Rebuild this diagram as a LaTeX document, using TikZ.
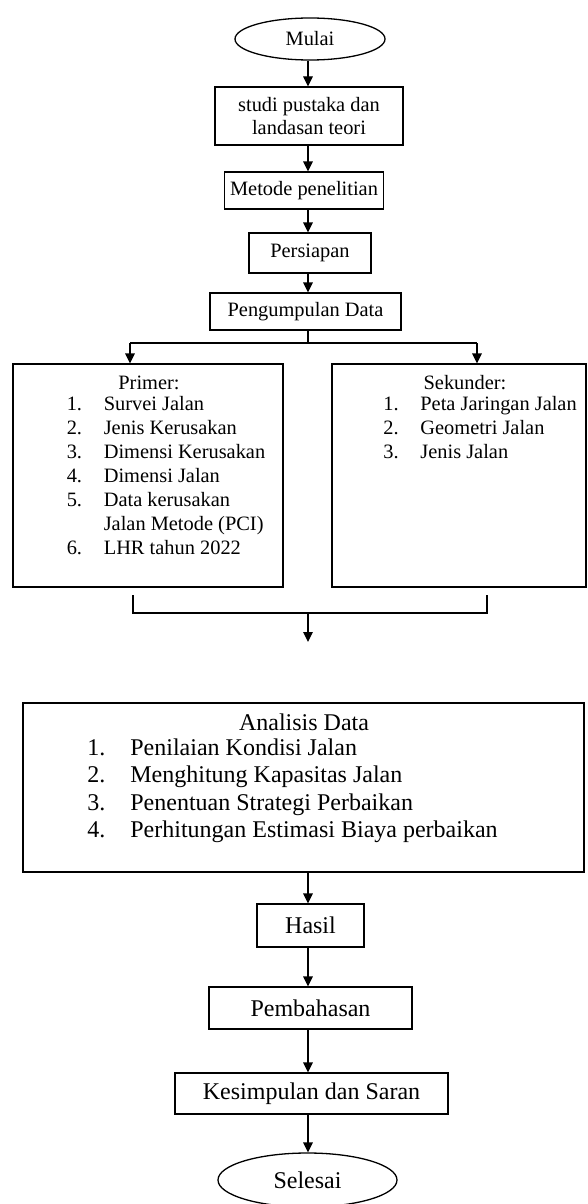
\documentclass[tikz,border=0pt]{standalone}
\usepackage{fontspec}
\setmainfont{Liberation Serif}
\usetikzlibrary{shapes.geometric, arrows.meta, matrix, positioning}
\newcommand{\pu}{0.5pt}
\newcommand{\kecil}{\fontsize{10.2pt}{11.5pt}\selectfont}
\newcommand{\besar}{\fontsize{12pt}{14pt}\selectfont}

\tikzset{
  box/.style={draw, line width=0.65pt, inner sep=0pt, align=center},
  oval/.style={draw, ellipse, line width=0.65pt, inner sep=0pt},
  arr/.style={line width=0.65pt, -{Triangle[length=5pt,width=4.8pt]}},
  link/.style={line width=0.65pt},
  listmat/.style={matrix of nodes, inner sep=0pt, row sep=0pt, column sep=0pt,
    nodes={anchor=base west, inner sep=0pt, font=\kecil, text height=8.5pt, text depth=3.5pt},
    column 1/.style={nodes={text width=18.5pt}}},
}

\begin{document}
\begin{tikzpicture}[x=\pu, y=-\pu, font=\besar]
      \useasboundingbox (0,0) rectangle (588,1204);
      \node[oval, font=\kecil, minimum width=150*\pu, minimum height=42*\pu] (mulai) at (310,39) {Mulai};
      \node[box, font=\kecil, minimum width=188*\pu, minimum height=58*\pu] (studi) at (309,116) {studi pustaka dan\\landasan teori};
      \node[box, font=\kecil, minimum width=159*\pu, minimum height=37*\pu] (metode) at (304,190.5) {Metode penelitian};
      \node[box, font=\kecil, minimum width=122*\pu, minimum height=40*\pu] (siap) at (310,253) {Persiapan};
      \node[box, font=\kecil, minimum width=191*\pu, minimum height=37*\pu] (kumpul) at (305.5,311.5) {Pengumpulan Data};
      \node[box, minimum width=270*\pu, minimum height=223*\pu] (primer) at (148,475.5) {};
      \node[box, minimum width=254*\pu, minimum height=223*\pu] (sekunder) at (459,475.5) {};
      \node[box, minimum width=561*\pu, minimum height=169*\pu] (analisis) at (303.5,787.5) {};
      \node[box, minimum width=107*\pu, minimum height=43*\pu] (hasil) at (310.5,925.5) {Hasil};
      \node[box, minimum width=203*\pu, minimum height=42*\pu] (bahas) at (310.5,1008) {Pembahasan};
      \node[box, minimum width=273*\pu, minimum height=41*\pu] (simpul) at (311.5,1093.5) {Kesimpulan dan Saran};
      \node[oval, minimum width=179*\pu, minimum height=54*\pu] (selesai) at (307.5,1180) {Selesai};
      % isi kotak data
      \node[font=\kecil] (primerjudul) at (149,383) {Primer:};
      \matrix (primerlist) [listmat, anchor=north west] at (66,393) {
        1. & Survei Jalan \\
        2. & Jenis Kerusakan \\
        3. & Dimensi Kerusakan \\
        4. & Dimensi Jalan \\
        5. & Data kerusakan \\
           & Jalan Metode (PCI) \\
        6. & LHR tahun 2022 \\
      };
      \node[font=\kecil] (sekunderjudul) at (465,383) {Sekunder:};
      \matrix (sekunderlist) [listmat, anchor=north west] at (383,393) {
        1. & Peta Jaringan Jalan \\
        2. & Geometri Jalan \\
        3. & Jenis Jalan \\
      };
      \node (analisisjudul) at (304,722) {Analisis Data};
      \matrix (analisislist) [listmat, anchor=north west, column 1/.style={nodes={text width=21.5pt}},
        nodes={font=\besar, text height=9.6pt, text depth=4pt}] at (87,736) {
        1. & Penilaian Kondisi Jalan \\
        2. & Menghitung Kapasitas Jalan \\
        3. & Penentuan Strategi Perbaikan \\
        4. & Perhitungan Estimasi Biaya perbaikan \\
      };
      % alur
      \coordinate (poros) at (308,0);
      \draw[arr] (mulai.south -| poros) -- (studi.north -| poros);
      \draw[arr] (studi.south -| poros) -- (metode.north -| poros);
      \draw[arr] (metode.south -| poros) -- (siap.north -| poros);
      \draw[arr] (siap.south -| poros) -- (kumpul.north -| poros);
      \coordinate (cabang) at (308,343);
      \coordinate (cabangkiri) at (130,343);
      \coordinate (cabangkanan) at (477,343);
      \draw[link] (kumpul.south -| poros) -- (cabang);
      \draw[link] (cabangkiri) -- (cabangkanan);
      \draw[arr] (cabangkiri) -- (cabangkiri |- primer.north);
      \draw[arr] (cabangkanan) -- (cabangkanan |- sekunder.north);
      \coordinate (gabungkiri) at (133,595);
      \coordinate (gabungkanan) at (487,595);
      \coordinate (gabung) at (308,613);
      \coordinate (ujung) at (308,642);
      \draw[link] (gabungkiri) |- (gabung) -| (gabungkanan);
      \draw[arr] (gabung) -- (ujung);
      \draw[arr] (analisis.south -| poros) -- (hasil.north -| poros);
      \draw[arr] (hasil.south -| poros) -- (bahas.north -| poros);
      \draw[arr] (bahas.south -| poros) -- (simpul.north -| poros);
      \draw[arr] (simpul.south -| poros) -- (selesai.north -| poros);
\end{tikzpicture}
\end{document}
